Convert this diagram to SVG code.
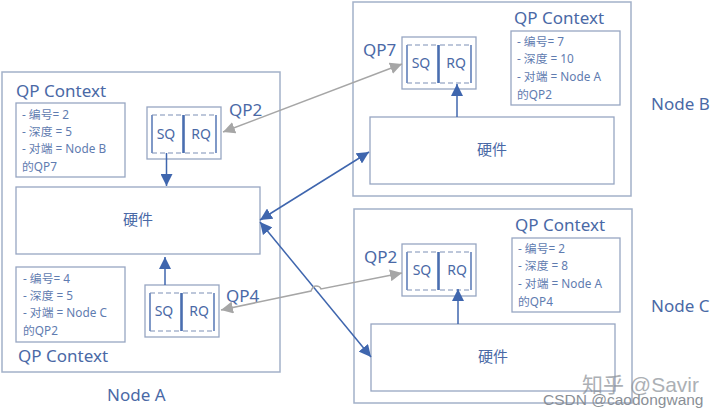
<svg xmlns="http://www.w3.org/2000/svg" width="720" height="417" viewBox="0 0 720 417">
<style>
text{font-family:"Noto Sans","Noto Sans CJK SC",sans-serif;fill:#4a69a6}
.box{fill:#fff;stroke:#a3b1c9;stroke-width:1.5}
.in{fill:#fff;stroke:#97a6c2;stroke-width:1.3}
.ttl{font-size:17px}
.qp{font-size:17px}
.nd{font-size:17px}
.sm{font-size:11.800px;fill:#5f7cb0}
.q{font-size:14px;text-anchor:middle}
.hw{font-size:15px;text-anchor:middle}
.br{fill:none;stroke:#4a6eb0;stroke-width:1.4}
.da{fill:none;stroke:#7d90b5;stroke-width:1.1;stroke-dasharray:5 3}
.th{stroke:#4a6eb0;stroke-width:2.6}
.bl{fill:none;stroke:#3f66ae;stroke-width:1.5}
.gr{fill:none;stroke:#a6a6a6;stroke-width:1.5}
.wm{fill:#8a8f96;font-family:"Liberation Sans","Noto Sans CJK SC",sans-serif}
</style>
<defs>
<marker id="ab" viewBox="0 0 10 10" refX="10" refY="5" markerWidth="12" markerHeight="12" markerUnits="userSpaceOnUse" orient="auto-start-reverse"><path d="M0 0L10 5L0 10Z" fill="#3f66ae"/></marker>
<marker id="ag" viewBox="0 0 10 10" refX="10" refY="5" markerWidth="12" markerHeight="12" markerUnits="userSpaceOnUse" orient="auto-start-reverse"><path d="M0 0L10 5L0 10Z" fill="#a6a6a6"/></marker>
<g id="qpshape">
<rect class="in" width="74" height="52"/>
<path class="br" d="M5 8V46M69 8V46"/>
<path class="da" d="M5 8H35M5 46H35M38 8H69M38 46H69"/>
<path class="th" d="M36.500 8V46"/>
</g>
</defs>
<rect width="720" height="417" fill="#fff"/>
<g id="node-a">
<rect class="box" x="2" y="72" width="278" height="300"/>
<text class="ttl" x="16" y="97">QP Context</text>
<rect class="in" x="16" y="103" width="109" height="74"/>
<text class="sm" x="22" y="119">- 编号= 2</text>
<text class="sm" x="22" y="136">- 深度 = 5</text>
<text class="sm" x="22" y="153">- 对端 = Node B</text>
<text class="sm" x="22" y="171">的QP7</text>
<use href="#qpshape" x="147" y="107"/>
<text class="q" x="166" y="139">SQ</text>
<text class="q" x="201" y="139">RQ</text>
<text class="qp" x="229" y="116">QP2</text>
<rect class="in" x="16" y="187" width="244" height="67"/>
<text class="hw" x="138" y="225">硬件</text>
<rect class="in" x="16" y="267" width="109" height="75"/>
<text class="sm" x="23" y="283">- 编号= 4</text>
<text class="sm" x="23" y="300">- 深度 = 5</text>
<text class="sm" x="23" y="317">- 对端 = Node C</text>
<text class="sm" x="23" y="335">的QP2</text>
<use href="#qpshape" x="145" y="285"/>
<text class="q" x="164" y="316">SQ</text>
<text class="q" x="199" y="316">RQ</text>
<text class="qp" x="226" y="302">QP4</text>
<text class="ttl" x="18" y="362">QP Context</text>
<text class="nd" x="107" y="401">Node A</text>
</g>
<g id="node-b">
<rect class="box" x="353" y="2" width="278" height="194"/>
<text class="ttl" x="514" y="24">QP Context</text>
<rect class="in" x="511" y="31" width="109" height="74"/>
<text class="sm" x="517" y="46">- 编号= 7</text>
<text class="sm" x="517" y="63">- 深度 = 10</text>
<text class="sm" x="517" y="81">- 对端 = Node A</text>
<text class="sm" x="517" y="99">的QP2</text>
<use href="#qpshape" x="402" y="37"/>
<text class="q" x="421" y="68">SQ</text>
<text class="q" x="456" y="68">RQ</text>
<text class="qp" x="363" y="56">QP7</text>
<rect class="in" x="370" y="117" width="244" height="67"/>
<text class="hw" x="492" y="155">硬件</text>
<text class="nd" x="651" y="110">Node B</text>
</g>
<g id="node-c">
<rect class="box" x="354" y="209" width="278" height="194"/>
<text class="ttl" x="515" y="231">QP Context</text>
<rect class="in" x="512" y="238" width="108" height="74"/>
<text class="sm" x="518" y="253">- 编号= 2</text>
<text class="sm" x="518" y="270">- 深度 = 8</text>
<text class="sm" x="518" y="288">- 对端 = Node A</text>
<text class="sm" x="518" y="306">的QP4</text>
<use href="#qpshape" x="402" y="244"/>
<text class="q" x="422" y="275">SQ</text>
<text class="q" x="457" y="275">RQ</text>
<text class="qp" x="364" y="263">QP2</text>
<rect class="in" x="371" y="324" width="244" height="67"/>
<text class="hw" x="493" y="362">硬件</text>
<text class="nd" x="651" y="312">Node C</text>
</g>
<g id="connectors">
<path class="bl" d="M166.500 153V186" marker-end="url(#ab)"/>
<path class="bl" d="M165 285V257" marker-end="url(#ab)"/>
<path class="bl" d="M457 117V84" marker-end="url(#ab)"/>
<path class="bl" d="M458 324V289" marker-end="url(#ab)"/>
<path class="bl" d="M260 220L369 152" marker-start="url(#ab)" marker-end="url(#ab)"/>
<path class="bl" d="M260 222L371 357" marker-start="url(#ab)" marker-end="url(#ab)"/>
<path class="gr" d="M223 132L402 64" marker-start="url(#ag)" marker-end="url(#ag)"/>
<path class="gr" d="M221 310L311 291Q313 286 316 286Q320 286 321 289L402 273" marker-start="url(#ag)" marker-end="url(#ag)"/>
</g>
<g id="watermark">
<text class="wm" x="582" y="392" font-size="21" opacity=".7">知乎 @Savir</text>
<text class="wm" x="543" y="405" font-size="15.500">CSDN @caodongwang</text>
</g>
</svg>
